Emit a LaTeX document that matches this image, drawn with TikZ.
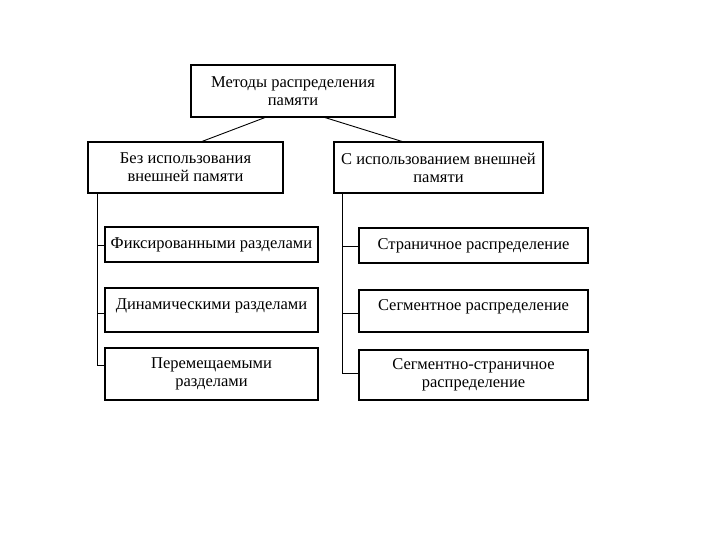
\documentclass[tikz,border=0pt]{standalone}
\usepackage{fontspec}
\setmainfont{Liberation Serif}
\begin{document}
\begin{tikzpicture}[x=1pt,y=-1pt,
  box/.style={draw,line width=1.1pt,inner sep=0pt,align=center,font=\fontsize{16.5}{18}\selectfont},
  conn/.style={line width=0.9pt}]
\useasboundingbox[fill=white] (0,0) rectangle (720,540);
\node[box,minimum width=204pt,minimum height=52pt] (top) at (293,91) {Методы распределения\\памяти};
\node[box,minimum width=195pt,minimum height=51pt] (l1) at (185.5,167.5) {Без использования\\внешней памяти};
\node[box,minimum width=209pt,minimum height=51pt] (r1) at (438.5,167.5) {С использованием внешней\\памяти};
\node[box,minimum width=213pt,minimum height=35pt] (la) at (211.5,244.5) {Фиксированными разделами};
\node[box,minimum width=213pt,minimum height=44pt,text depth=11pt] (lb) at (211.5,310) {Динамическими разделами};
\node[box,minimum width=213pt,minimum height=52pt] (lc) at (211.5,374) {Перемещаемыми\\разделами};
\node[box,minimum width=229pt,minimum height=35pt] (ra) at (473.5,245.5) {Страничное распределение};
\node[box,minimum width=229pt,minimum height=42pt,text depth=11pt] (rb) at (473.5,311) {Сегментное распределение};
\node[box,minimum width=229pt,minimum height=50pt] (rc) at (473.5,375) {Сегментно-страничное\\распределение};
\draw[conn] ([xshift=-28pt]top.south) -- ([xshift=16.5pt]l1.north);
\draw[conn] ([xshift=32pt]top.south) -- ([xshift=-36.5pt]r1.north);
\coordinate (lj1) at (97,245);
\coordinate (lj2) at (97,313);
\coordinate (lj3) at (97,365);
\draw[conn] (l1.south -| lj1) -- (lj3) -- (lc.west |- lj3);
\draw[conn] (lj1) -- (la.west |- lj1);
\draw[conn] (lj2) -- (lb.west |- lj2);
\coordinate (rj1) at (342,246);
\coordinate (rj2) at (342,313);
\coordinate (rj3) at (342,373);
\draw[conn] (r1.south -| rj1) -- (rj3) -- (rc.west |- rj3);
\draw[conn] (rj1) -- (ra.west |- rj1);
\draw[conn] (rj2) -- (rb.west |- rj2);
\end{tikzpicture}
\end{document}
